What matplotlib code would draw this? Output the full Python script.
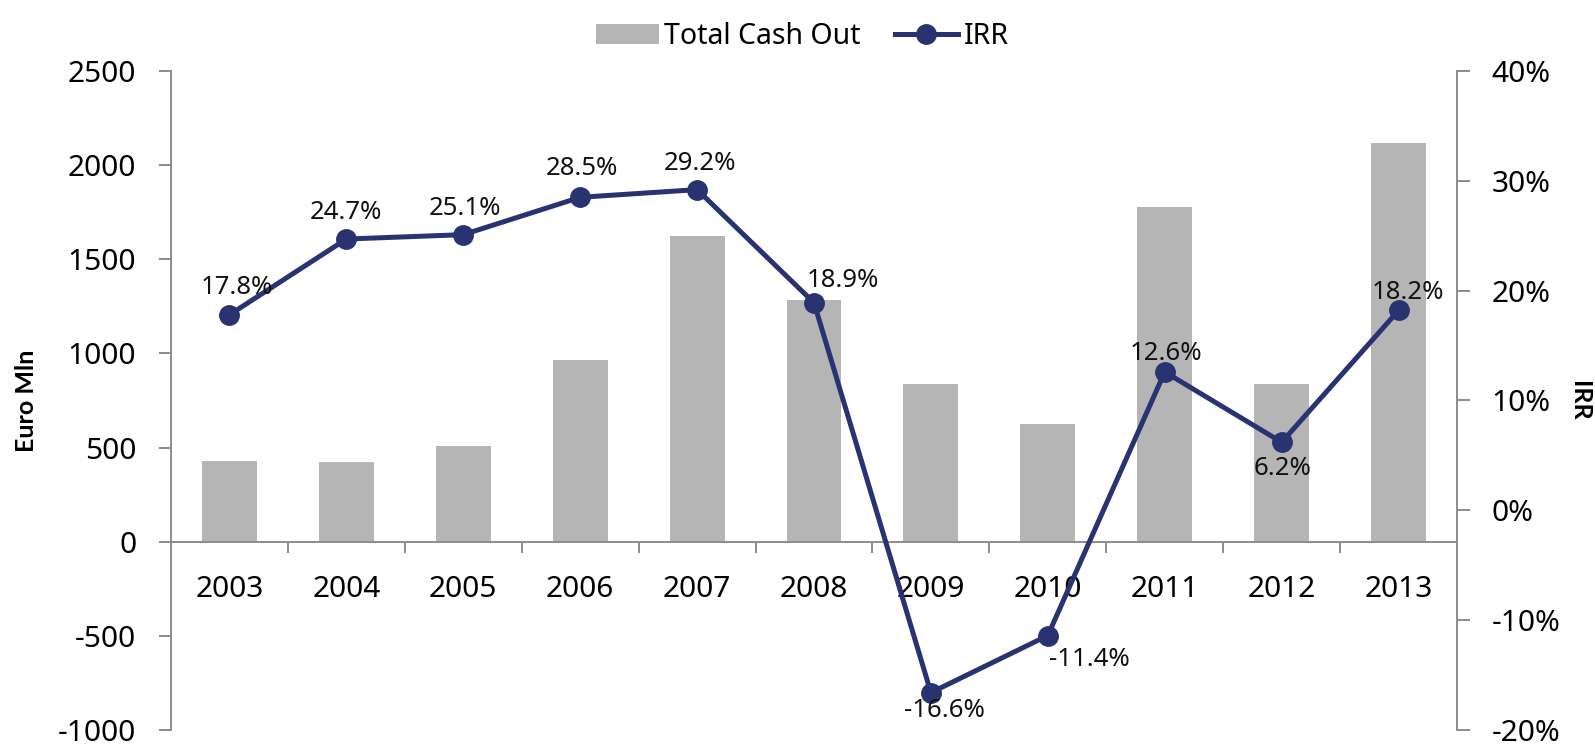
import matplotlib
matplotlib.use("Agg")
import matplotlib.pyplot as plt
from matplotlib.ticker import FixedLocator, FuncFormatter
from matplotlib.lines import Line2D
from matplotlib.patches import Patch

plt.rcParams['font.family'] = ['Noto Sans', 'DejaVu Sans']
plt.rcParams['axes.unicode_minus'] = False

years = ['2003', '2004', '2005', '2006', '2007', '2008', '2009', '2010', '2011', '2012', '2013']
cash_out = [430, 425, 510, 965, 1625, 1285, 835, 625, 1780, 840, 2115]
irr = [17.8, 24.7, 25.1, 28.5, 29.2, 18.9, -16.6, -11.4, 12.6, 6.2, 18.2]
left_ticks = [-1000, -500, 0, 500, 1000, 1500, 2000, 2500]
right_ticks = [-20, -10, 0, 10, 20, 30, 40]

# label offsets in points (dx, dy)
label_offsets = [(5, 20), (0, 19), (1, 19), (1, 21), (2, 19), (21, 16), (10, -13),
                 (30, -17), (1, 13), (1, -19), (7, 13)]

bar_color = '#B5B5B5'
line_color = '#2A3371'
axis_color = '#8C8C8C'

fig = plt.figure(figsize=(15.95, 7.49), dpi=100)
ax = fig.add_axes([0.1072, 0.0254, 0.8063, 0.8798])
ax2 = ax.twinx()

x = list(range(len(years)))
ax.bar(x, cash_out, width=0.47, color=bar_color, zorder=2)
ax.set_ylim(-1000, 2500)
ax.set_xlim(-0.5, len(years) - 0.5)

ax2.plot(x, irr, color=line_color, lw=3.6, marker='o', markersize=14, zorder=5)
ax2.set_ylim(-20, 40)

for xi, v, (dx, dy) in zip(x, irr, label_offsets):
    ax2.annotate(f"{v:.1f}%", (xi, v), xytext=(dx, dy), textcoords='offset points',
                 ha='center', va='center', fontsize=18.5, color='#111111', zorder=6)

for a in (ax, ax2):
    a.spines['top'].set_visible(False)
    a.set_facecolor('none')
ax.spines['right'].set_visible(False)
ax2.spines['bottom'].set_visible(False)
ax2.spines['left'].set_visible(False)
ax.spines['bottom'].set_position(('data', 0))
for s in (ax.spines['left'], ax.spines['bottom'], ax2.spines['right']):
    s.set_color(axis_color)
    s.set_linewidth(1.4)

ax.yaxis.set_major_locator(FixedLocator(left_ticks))
ax.tick_params(axis='y', direction='out', length=9, width=1.4, color=axis_color,
               labelsize=21.5, pad=16)
ax2.yaxis.set_major_locator(FixedLocator(right_ticks))
ax2.yaxis.set_major_formatter(FuncFormatter(lambda v, p: f"{v:.0f}%"))
ax2.tick_params(axis='y', direction='out', length=9, width=1.4, color=axis_color,
                labelsize=21.5, pad=16)

ax.set_xticks(x)
ax.set_xticklabels(years)
ax.tick_params(axis='x', which='major', length=0, labelsize=21.5, pad=24)
ax.set_xticks([i + 0.5 for i in x[:-1]], minor=True)
ax.tick_params(axis='x', which='minor', direction='out', length=8, width=1.4, color=axis_color)

lab_font = dict(family=['Lato', 'DejaVu Sans'], fontsize=18, fontweight='bold')
ax.set_ylabel('Euro Mln', **lab_font)
ax.yaxis.set_label_coords(-0.1035, 0.5)
ax2.set_ylabel('IRR', rotation=270, va='center', **lab_font)
ax2.yaxis.set_label_coords(1.095, 0.5)

handles = [Patch(facecolor=bar_color, edgecolor='none'),
           Line2D([0], [0], color=line_color, lw=3.6, marker='o', markersize=14)]
fig.legend(handles, ['Total Cash Out', 'IRR'], loc='upper center',
           bbox_to_anchor=(0.503, 1.005), ncol=2, frameon=False, fontsize=20.5,
           handlelength=2.2, handletextpad=0.2, columnspacing=1.2)

fig.savefig('out.png', dpi=100)
